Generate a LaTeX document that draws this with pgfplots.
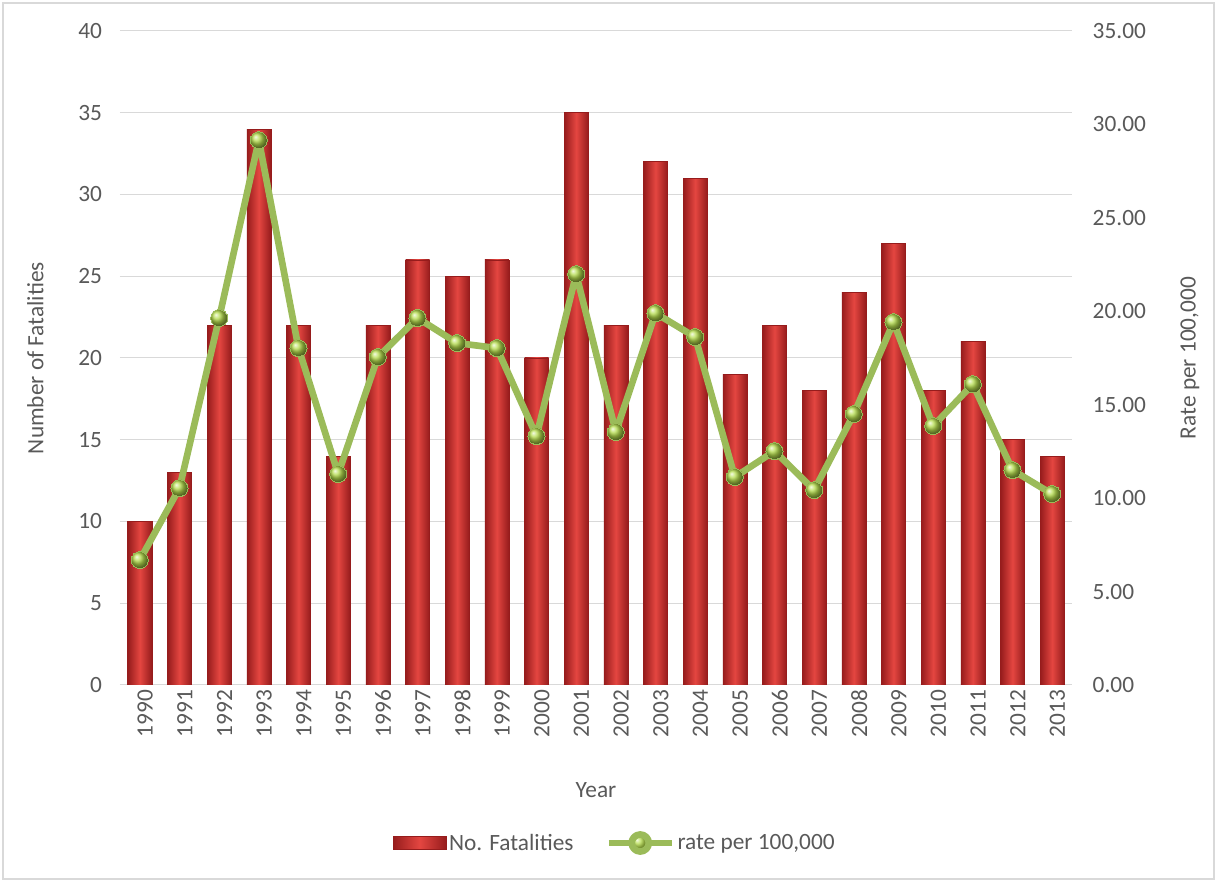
\documentclass[border=0pt]{standalone}
\usepackage{pgfplots}
\usepackage{pgfplotstable}
\pgfplotsset{compat=1.18}
\usepackage{fontspec}
\setmainfont{Carlito}
\usetikzlibrary{plotmarks}
\definecolor{txt}{RGB}{89,89,89}
\definecolor{gridc}{RGB}{217,217,217}
\definecolor{lgreen}{RGB}{155,187,89}
\definecolor{ballg}{RGB}{180,220,75}
\definecolor{bardark}{RGB}{150,28,28}
\definecolor{barmid}{RGB}{228,70,65}
\newcommand{\fs}{\fontsize{17.5}{20}\selectfont}
\pgfplotstableread{
x y
0 10
1 13
2 22
3 34
4 22
5 14
6 22
7 26
8 25
9 26
10 20
11 35
12 22
13 32
14 31
15 19
16 22
17 18
18 24
19 27
20 18
21 21
22 15
23 14
}\bars
\begin{document}
\begin{tikzpicture}
\path[use as bounding box] (0,0) rectangle (913.5pt,661.5pt);
\draw[gridc, line width=1pt] (2.25pt,2.25pt) rectangle (910.5pt,659.25pt);
\begin{axis}[
  at={(90pt,147.75pt)}, anchor=south west,
  scale only axis, width=714pt, height=490.5pt,
  xmin=-0.5, xmax=23.5, ymin=0, ymax=40, enlargelimits=false,
  ytick={0,5,...,40},
  xtick={0,...,23},
  xticklabels={1990,1991,1992,1993,1994,1995,1996,1997,1998,1999,2000,2001,2002,2003,2004,2005,2006,2007,2008,2009,2010,2011,2012,2013},
  x tick label style={rotate=90, anchor=east},
  axis line style={draw=none},
  major tick length=0pt,
  ymajorgrids, grid style={gridc, line width=0.75pt},
  tick label style={text=txt, font=\fs},
  /pgf/number format/assume math mode=true,
  yticklabel style={xshift=-10pt},
  xticklabel style={yshift=-4pt},
  label style={text=txt, font=\fs},
  ylabel={Number of Fatalities},
  ylabel style={at={(axis description cs:-0.089,0.5)}, anchor=center},
  xlabel={Year},
  xlabel style={at={(axis description cs:0.5,-0.16)}, anchor=center},
  ybar, bar width=18pt,
]
\pgfplotsinvokeforeach{0,...,23}{
\addplot[ybar, bar shift=0pt, draw=bardark, line width=0.5pt, left color=bardark, right color=bardark, middle color=barmid,
  restrict x to domain=#1:#1] table[x=x,y=y] {\bars};
}
\end{axis}
\begin{axis}[
  at={(90pt,147.75pt)}, anchor=south west,
  scale only axis, width=714pt, height=490.5pt,
  xmin=-0.5, xmax=23.5, ymin=0, ymax=35, enlargelimits=false,
  axis y line*=right, axis x line=none,
  axis line style={draw=none},
  major tick length=0pt,
  ytick={0,5,...,35},
  yticklabel style={text=txt, font=\fs, xshift=12pt},
  /pgf/number format/.cd, fixed, fixed zerofill, precision=2, assume math mode=true, /pgfplots/.cd,
  label style={text=txt, font=\fs},
  ylabel={Rate per 100,000},
  ylabel style={at={(axis description cs:1.124,0.5)}, anchor=center, rotate=0},
  legend columns=2,
  legend style={draw=none, fill=none, at={(0.52,-0.2416)}, anchor=center, font=\fs, text=txt,
    /tikz/every even column/.append style={column sep=22pt}},
]
\addlegendimage{legend image code/.code={
  \shade[left color=bardark, right color=bardark, middle color=barmid, draw=bardark] (-0.4cm,-5pt) rectangle (1.0cm,5pt);}}
\addlegendentry{No. Fatalities}
\addplot[lgreen, line width=5pt, line join=round, mark=ball, mark size=6.4pt, mark options={ball color=ballg, line width=0pt},
  legend image code/.code={
   \draw[lgreen, line width=5pt] (-0.1cm,0) -- (1.55cm,0);
   \shade[ball color=ballg] (0.725cm,0) circle (6.4pt);}] coordinates {
(0,6.69) (1,10.54) (2,19.64) (3,29.16) (4,18.03) (5,11.29) (6,17.55) (7,19.64) (8,18.30) (9,18.03)
(10,13.32) (11,21.99) (12,13.54) (13,19.90) (14,18.62) (15,11.13) (16,12.52) (17,10.43) (18,14.50)
(19,19.42) (20,13.86) (21,16.10) (22,11.50) (23,10.22)};
\addlegendentry{rate per 100,000}
\end{axis}
\end{tikzpicture}
\end{document}
